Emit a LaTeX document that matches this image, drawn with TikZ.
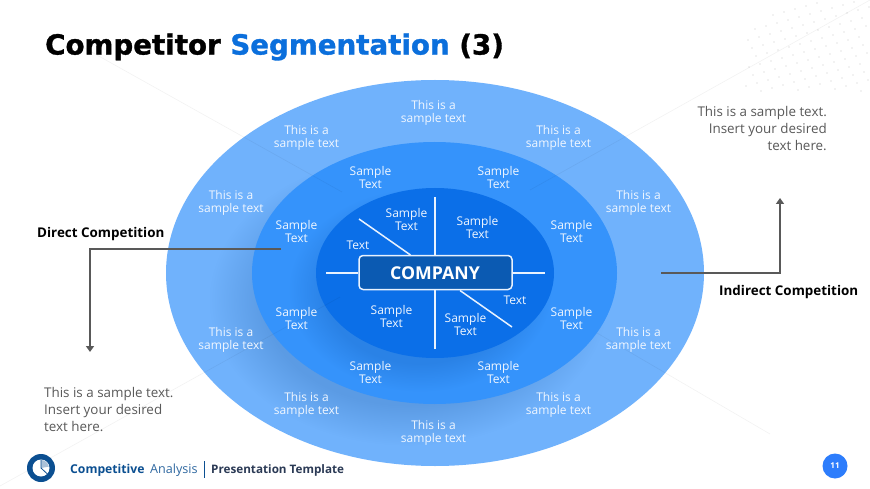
\documentclass[tikz,border=0pt]{standalone}
\usepackage{fontspec}
\setmainfont{Open Sans}
\newfontfamily\titlefont[BoldFeatures={FakeBold=1.2}]{DejaVu Sans}
\usetikzlibrary{arrows.meta}
\definecolor{outerblue}{HTML}{70B2FC}
\definecolor{midblue}{HTML}{3593FB}
\definecolor{innerblue}{HTML}{0B6FE8}
\definecolor{boxblue}{HTML}{0B5AB2}
\definecolor{titleblue}{HTML}{0B6FDC}
\definecolor{footblue}{HTML}{0B4F91}
\definecolor{greytext}{HTML}{595959}
\definecolor{wire}{HTML}{595959}
\definecolor{linewhite}{HTML}{E8F2FF}
\definecolor{footdark}{HTML}{2B3A55}
\definecolor{outershade}{HTML}{5B9BE4}
\definecolor{midshade}{HTML}{2A82E6}
\pgfdeclareradialshading{outerfade}{\pgfpoint{0bp}{0bp}}{color(0bp)=(outershade); color(18bp)=(outershade); color(25bp)=(outerblue); color(50bp)=(outerblue)}
\pgfdeclareradialshading{midfade}{\pgfpoint{0bp}{0bp}}{color(0bp)=(midshade); color(18bp)=(midshade); color(25bp)=(midblue); color(50bp)=(midblue)}
\tikzset{
  ringtext/.style={text=white!90!outerblue,align=center,font=\fontsize{12}{12.6}\selectfont,inner sep=0pt},
  notetext/.style={text=greytext,font=\fontsize{13.4}{17}\selectfont,inner sep=0pt},
  sidelabel/.style={text=black,font=\fontsize{13.4}{16}\selectfont\bfseries,inner sep=0pt},
  spoke/.style={draw=linewhite,line width=1.5pt},
  wireline/.style={draw=wire,line width=1.6pt},
  faint/.style={draw=black,opacity=.05,line width=.6pt},
}
\begin{document}
\begin{tikzpicture}[x=1pt,y=-1pt]
\useasboundingbox (0,0) rectangle (870,489);
\fill[white] (0,0) rectangle (870,489);
% dot field
\foreach \i in {0,...,22}{\foreach \j in {0,...,14}{
  \pgfmathsetmacro{\px}{750+\i*11-\j*7}
  \pgfmathsetmacro{\py}{-6+\i*-3+\j*11}
  \pgfmathtruncatemacro{\show}{(\px>745)&&(\px<870)&&(\py>0)&&(\py<92)&&((\px-745)*0.62+\py>30)}
  \ifnum\show=1 \fill[black!22] (\px,\py) circle (.55);\fi
}}
% rings
\fill[outerblue] (435,273) ellipse [x radius=269,y radius=193];
\begin{scope}
\clip (435,273) ellipse [x radius=269,y radius=193];
\shade[shading=outerfade] (408,300) ellipse [x radius=200,y radius=146];
\end{scope}
\fill[midblue] (434.5,273) ellipse [x radius=182.5,y radius=131];
\begin{scope}
\clip (434.5,273) ellipse [x radius=182.5,y radius=131];
\shade[shading=midfade] (420,290) ellipse [x radius=132,y radius=102];
\end{scope}
\fill[innerblue] (435,273) ellipse [x radius=119,y radius=85];
% background hairlines, showing through the rings
\draw[faint] (70,40) -- (342,192);
\draw[faint] (0,486) -- (340,297);
\draw[faint] (597,333) -- (770,434);
\draw[faint] (870,0) -- (530,190);
% wires
\coordinate (dstart) at (281,249);
\coordinate (dcorner) at (90,249);
\coordinate (dend) at (90,352);
\coordinate (istart) at (661,273);
\coordinate (icorner) at (780,273);
\coordinate (iend) at (780,198);
\draw[wireline,-{Triangle[length=6pt,width=8pt]}] (dstart) -- (dcorner) -- (dend);
\draw[wireline,-{Triangle[length=6pt,width=8pt]}] (istart) -- (icorner) -- (iend);
% company box & spokes
\node[draw=linewhite,fill=boxblue,rounded corners=4pt,line width=1.5pt,minimum width=153pt,minimum height=34pt,inner sep=0pt] (company) at (435.5,272.5) {};
\node[text=white,font=\fontsize{17.7}{20}\selectfont\bfseries,inner sep=0pt] (companytext) at (435,273.5) {COMPANY};
\coordinate (su) at (435,197);
\coordinate (sd) at (435,349);
\coordinate (sl) at (326,273);
\coordinate (sr) at (545,273);
\coordinate (da) at (359,219);
\coordinate (db) at (512,327);
\draw[spoke] (su) -- (company.north -| su);
\draw[spoke] (sd) -- (company.south -| sd);
\draw[spoke] (sl) -- (company.west |- sl);
\draw[spoke] (sr) -- (company.east |- sr);
\draw[spoke] (da) -- (410.5,255);
\draw[spoke] (db) -- (460,290.5);
% outer ring
\node[ringtext] (o1) at (433.5,113) {This is a\\sample text};
\node[ringtext] (o2) at (306.5,138) {This is a\\sample text};
\node[ringtext] (o3) at (558.5,138) {This is a\\sample text};
\node[ringtext] (o4) at (231,203) {This is a\\sample text};
\node[ringtext] (o5) at (638.5,203) {This is a\\sample text};
\node[ringtext] (o6) at (231,340) {This is a\\sample text};
\node[ringtext] (o7) at (638.5,340) {This is a\\sample text};
\node[ringtext] (o8) at (306.5,405) {This is a\\sample text};
\node[ringtext] (o9) at (558.5,405) {This is a\\sample text};
\node[ringtext] (o10) at (433.5,433) {This is a\\sample text};
% middle ring
\node[ringtext] (m1) at (370.5,177.5) {Sample\\Text};
\node[ringtext] (m2) at (498.5,177.5) {Sample\\Text};
\node[ringtext] (m3) at (296.5,231.5) {Sample\\Text};
\node[ringtext] (m4) at (571.5,231.5) {Sample\\Text};
\node[ringtext] (m5) at (296.5,318.5) {Sample\\Text};
\node[ringtext] (m6) at (571.5,318.5) {Sample\\Text};
\node[ringtext] (m7) at (370.5,372.5) {Sample\\Text};
\node[ringtext] (m8) at (498.5,372.5) {Sample\\Text};
% inner
\node[ringtext] (i1) at (406.5,219.5) {Sample\\Text};
\node[ringtext] (i2) at (477.5,227.5) {Sample\\Text};
\node[ringtext] (i3) at (358,245) {Text};
\node[ringtext] (i4) at (515,300) {Text};
\node[ringtext] (i5) at (391.5,316.5) {Sample\\Text};
\node[ringtext] (i6) at (465.5,324.5) {Sample\\Text};
% title
\node[anchor=west,inner sep=0pt,font=\titlefont\fontsize{27.7}{32}\selectfont\bfseries] (title) at (45,47) {Competitor \textcolor{titleblue}{Segmentation} (3)};
% side labels
\node[sidelabel,anchor=west] (direct) at (37,234) {Direct Competition};
\node[sidelabel,anchor=west] (indirect) at (719,292) {Indirect Competition};
\node[notetext,anchor=north west,align=left] (noteL) at (44,387) {This is a sample text.\\Insert your desired\\text here.};
\node[notetext,anchor=north east,align=right] (noteR) at (827,106) {This is a sample text.\\Insert your desired\\text here.};
% footer
\fill[footblue] (41,468) circle (14);
\fill[white] (41,468) circle (8.5);
\fill[footblue!35] (41,468) -- (41,460) arc [start angle=-90,end angle=-10,radius=8] -- cycle;
\draw[footblue,line width=.8pt] (41,460) -- (41,468) -- (48.5,475);
\node[anchor=west,inner sep=0pt,text=footblue,font=\fontsize{12.2}{15}\selectfont\bfseries] (f1) at (70,470) {Competitive};
\node[anchor=west,inner sep=0pt,text=footblue!85,font=\fontsize{12.6}{15}\selectfont] (f2) at (150,470) {Analysis};
\draw[footblue,line width=.9pt] (204,461) -- (204,478);
\node[anchor=west,inner sep=0pt,text=footdark,font=\fontsize{11.7}{15}\selectfont\bfseries] (f3) at (211,470) {Presentation Template};
% page badge
\node[circle,fill=midblue!85!blue,minimum size=25pt,inner sep=0pt,text=white,font=\fontsize{8}{9}\selectfont\bfseries] (page) at (835,466) {11};
\end{tikzpicture}
\end{document}
